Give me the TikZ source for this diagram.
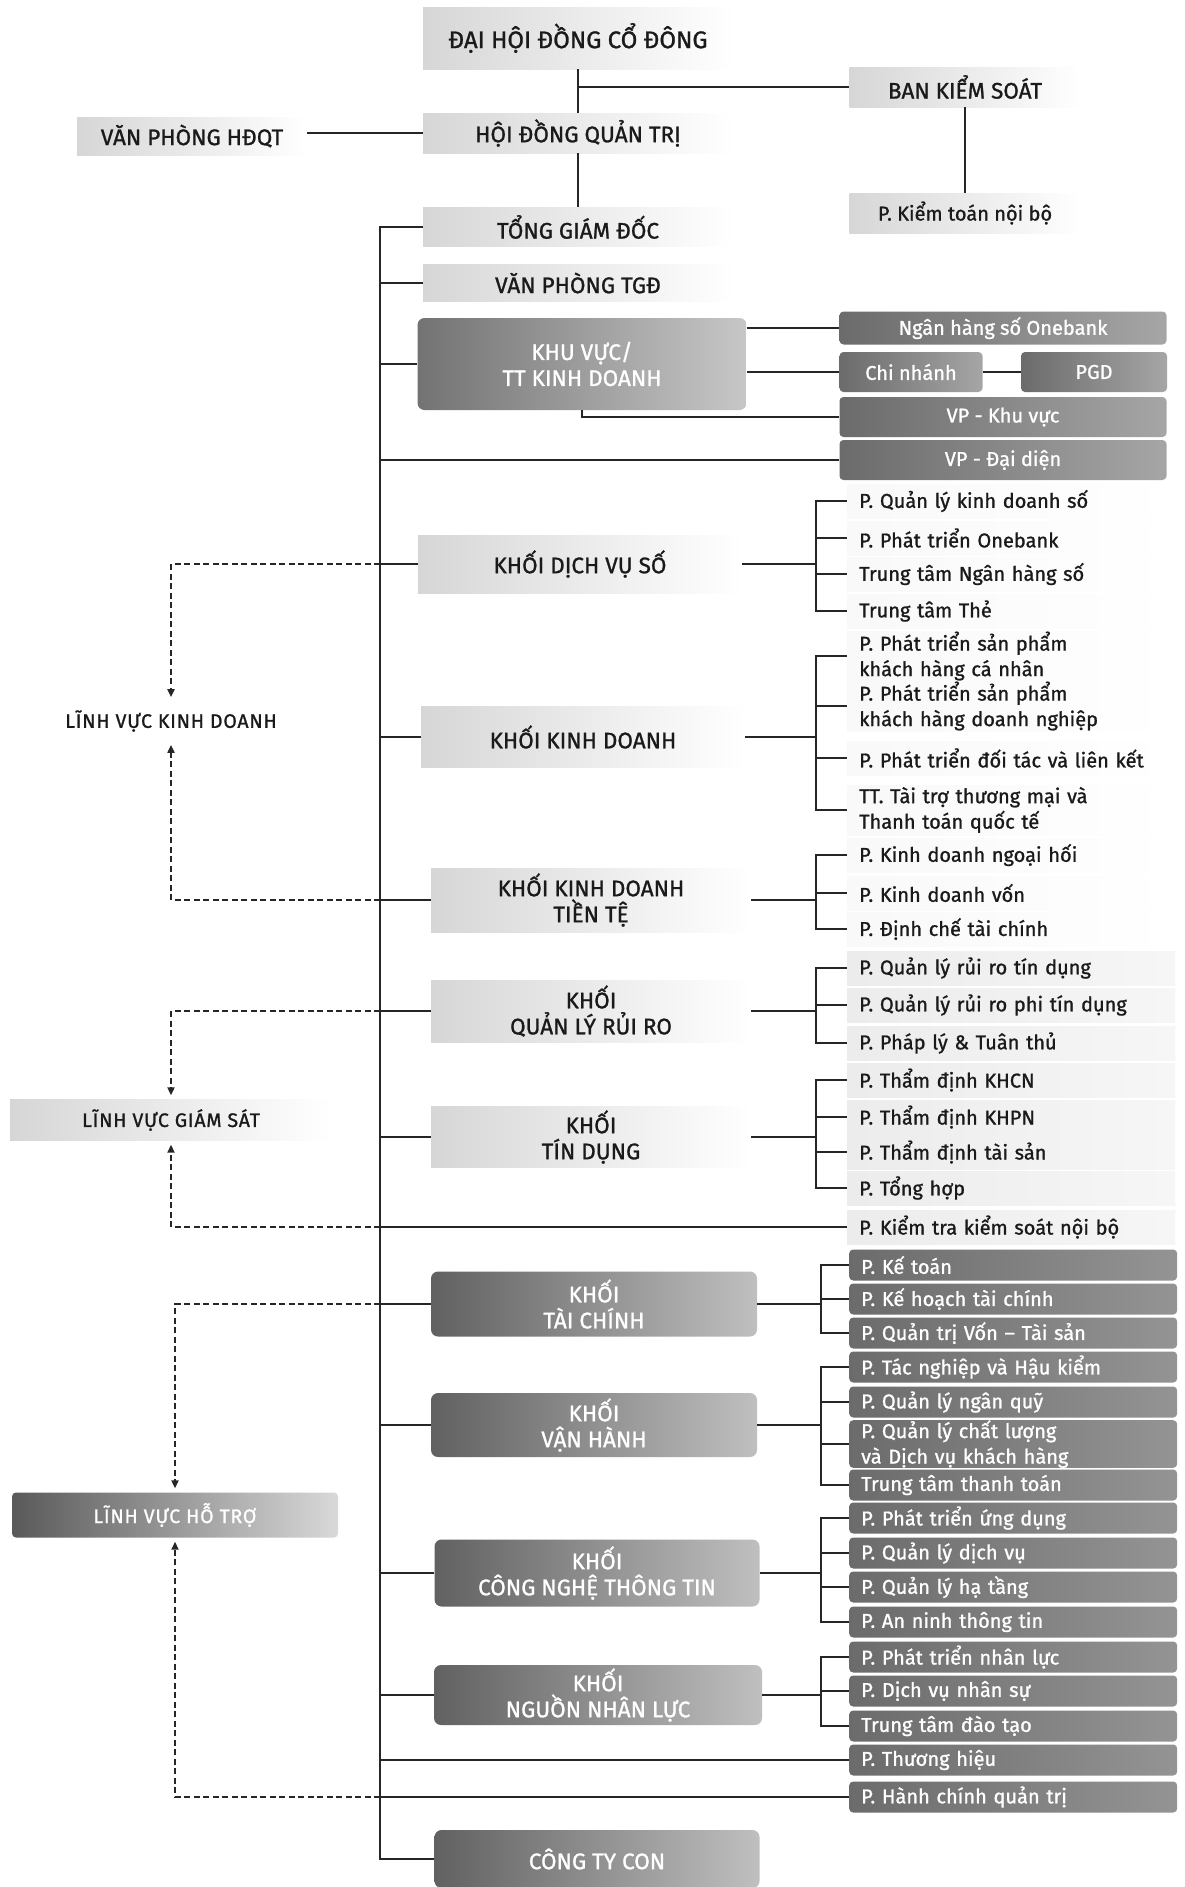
\documentclass[tikz,border=0pt]{standalone}
\usepackage{fontspec}
\setmainfont{Fira Sans}[FakeBold=1.1]
\newfontfamily\zwidefam{Fira Sans}[LetterSpace=4, FakeBold=1.1]
\usetikzlibrary{arrows.meta,calc}
\definecolor{lineC}{HTML}{262626}
\definecolor{txtC}{HTML}{1A1A1A}
\newcommand{\zhead}{\fontsize{22.5}{26}\selectfont}
\newcommand{\ztop}{\fontsize{24}{28}\selectfont}
\newcommand{\zitem}{\fontsize{20}{25.5}\selectfont}
\newcommand{\zwide}{\zwidefam\fontsize{19.5}{22}\selectfont}
\begin{document}
\begin{tikzpicture}[x=1pt,y=-1pt,
  ln/.style={line width=2.2pt, draw=lineC},
  dsh/.style={line width=2pt, draw=lineC, dash pattern=on 6pt off 3.5pt, -{Triangle[length=8pt,width=7pt]}, shorten >=4pt},
  lbox/.style={rectangle, left color=gray!32, right color=white, text=txtC, font=\zhead, align=center, inner sep=0pt},
  dbox/.style={rectangle, rounded corners=7pt, left color=black!62, right color=black!25, text=white, font=\zhead, align=center, inner sep=0pt},
  dcbox/.style={rectangle, rounded corners=4pt, left color=black!58, right color=black!35, text=white, font=\zitem, align=center, inner sep=0pt},
  litem/.style={rectangle, anchor=west, text width=304pt, inner xsep=12pt, inner ysep=0pt, minimum height=34pt, align=left, font=\zitem, text=txtC, left color=gray!5, right color=white},
  litemb/.style={litem, left color=gray!15, right color=gray!7},
  ditem/.style={rectangle, rounded corners=4pt, anchor=west, text width=304pt, inner xsep=12pt, inner ysep=0pt, minimum height=31pt, align=left, font=\zitem, text=white, left color=black!58, right color=black!42},
]
\useasboundingbox[fill=white] (0,0) rectangle (1184,1887);
\coordinate (sp) at (380,0);
\coordinate (bl) at (816,0);
\coordinate (bd) at (821,0);

% ---------- top ----------
\node[lbox, font=\ztop, minimum width=310pt, minimum height=62pt] (dhd) at (578,38) {ĐẠI HỘI ĐỒNG CỔ ĐÔNG};
\node[lbox, minimum width=310pt, minimum height=40pt] (hdqt) at (578,133) {HỘI ĐỒNG QUẢN TRỊ};
\node[lbox, minimum width=230pt, minimum height=38pt] (vphdqt) at (192,136) {VĂN PHÒNG HĐQT};
\node[lbox, minimum width=231pt, minimum height=40pt] (bks) at (965,87) {BAN KIỂM SOÁT};
\node[lbox, minimum width=231pt, minimum height=40pt, font=\zitem] (ktnb) at (965,213) {P. Kiểm toán nội bộ};
\node[lbox, minimum width=310pt, minimum height=39pt] (tgd) at (578,227) {TỔNG GIÁM ĐỐC};
\node[lbox, minimum width=310pt, minimum height=37pt] (vptgd) at (578,283) {VĂN PHÒNG TGĐ};

% ---------- khu vuc ----------
\node[dbox, minimum width=329pt, minimum height=92pt, left color=black!55, right color=black!22] (kv) at (582,364) {KHU VỰC/\\TT KINH DOANH};
\node[dcbox, minimum width=327pt, minimum height=33pt] (nhs) at (1003,328) {Ngân hàng số Onebank};
\node[dcbox, minimum width=143pt, minimum height=40pt] (cn) at (911,372) {Chi nhánh};
\node[dcbox, minimum width=146pt, minimum height=40pt] (pgd) at (1094,372) {PGD};
\node[dcbox, minimum width=327pt, minimum height=40pt] (vpkv) at (1003,417) {VP - Khu vực};
\node[dcbox, minimum width=327pt, minimum height=40pt] (vpdd) at (1003,460) {VP - Đại diện};

% ---------- light blocks ----------
\node[lbox, minimum width=324pt, minimum height=58pt] (dvs) at (580,564) {KHỐI DỊCH VỤ SỐ};
\node[litem] (dvs1) at (847,501) {P. Quản lý kinh doanh số};
\node[litem] (dvs2) at (847,538) {P. Phát triển Onebank};
\node[litem] (dvs3) at (847,574) {Trung tâm Ngân hàng số};
\node[litem] (dvs4) at (847,611) {Trung tâm Thẻ};

\node[lbox, minimum width=324pt, minimum height=61pt] (kd) at (583,737) {KHỐI KINH DOANH};
\node[litem, minimum height=50pt] (kd1) at (847,656) {P. Phát triển sản phẩm\\khách hàng cá nhân};
\node[litem, minimum height=50pt] (kd2) at (847,706) {P. Phát triển sản phẩm\\khách hàng doanh nghiệp};
\node[litem] (kd3) at (847,758) {P. Phát triển đối tác và liên kết};
\node[litem, minimum height=50pt] (kd4) at (847,810) {TT. Tài trợ thương mại và\\Thanh toán quốc tế};

\node[lbox, minimum width=320pt, minimum height=64pt] (kdtt) at (591,900) {KHỐI KINH DOANH\\TIỀN TỆ};
\node[litem] (kdtt1) at (847,855) {P. Kinh doanh ngoại hối};
\node[litem] (kdtt2) at (847,893) {P. Kinh doanh vốn};
\node[litem] (kdtt3) at (847,929) {P. Định chế tài chính};

\node[lbox, minimum width=320pt, minimum height=62pt] (qlrr) at (591,1011) {KHỐI\\QUẢN LÝ RỦI RO};
\node[litemb] (qlrr1) at (847,968) {P. Quản lý rủi ro tín dụng};
\node[litemb] (qlrr2) at (847,1005) {P. Quản lý rủi ro phi tín dụng};
\node[litemb] (qlrr3) at (847,1043) {P. Pháp lý \& Tuân thủ};

\node[lbox, minimum width=320pt, minimum height=61pt] (td) at (591,1137) {KHỐI\\TÍN DỤNG};
\node[litemb] (td1) at (847,1080) {P. Thẩm định KHCN};
\node[litemb] (td2) at (847,1117) {P. Thẩm định KHPN};
\node[litemb] (td3) at (847,1152) {P. Thẩm định tài sản};
\node[litemb] (td4) at (847,1188) {P. Tổng hợp};
\node[litemb] (ktks) at (847,1227) {P. Kiểm tra kiểm soát nội bộ};

% ---------- dark blocks ----------
\node[dbox, minimum width=326pt, minimum height=65pt] (tc) at (594,1304) {KHỐI\\TÀI CHÍNH};
\node[ditem] (tc1) at (849,1265) {P. Kế toán};
\node[ditem] (tc2) at (849,1299) {P. Kế hoạch tài chính};
\node[ditem] (tc3) at (849,1333) {P. Quản trị Vốn – Tài sản};

\node[dbox, minimum width=326pt, minimum height=64pt] (vh) at (594,1425) {KHỐI\\VẬN HÀNH};
\node[ditem] (vh1) at (849,1367) {P. Tác nghiệp và Hậu kiểm};
\node[ditem] (vh2) at (849,1402) {P. Quản lý ngân quỹ};
\node[ditem, minimum height=47pt] (vh3) at (849,1444) {P. Quản lý chất lượng\\và Dịch vụ khách hàng};
\node[ditem] (vh4) at (849,1485) {Trung tâm thanh toán};

\node[dbox, minimum width=325pt, minimum height=67pt] (cntt) at (597,1573) {KHỐI\\CÔNG NGHỆ THÔNG TIN};
\node[ditem] (it1) at (849,1518) {P. Phát triển ứng dụng};
\node[ditem] (it2) at (849,1553) {P. Quản lý dịch vụ};
\node[ditem] (it3) at (849,1587) {P. Quản lý hạ tầng};
\node[ditem] (it4) at (849,1622) {P. An ninh thông tin};

\node[dbox, minimum width=328pt, minimum height=60pt] (nnl) at (598,1695) {KHỐI\\NGUỒN NHÂN LỰC};
\node[ditem] (nl1) at (849,1657) {P. Phát triển nhân lực};
\node[ditem] (nl2) at (849,1691) {P. Dịch vụ nhân sự};
\node[ditem] (nl3) at (849,1726) {Trung tâm đào tạo};
\node[ditem] (th) at (849,1760) {P. Thương hiệu};
\node[ditem] (hc) at (849,1797) {P. Hành chính quản trị};

\node[dbox, minimum width=325pt, minimum height=58pt] (cty) at (597,1859) {CÔNG TY CON};

% ---------- left labels ----------
\node[font=\zwide, text=txtC, inner xsep=0pt, inner ysep=9pt] (lvkd) at (171,721) {LĨNH VỰC KINH DOANH};
\node[lbox, font=\zwide, minimum width=322pt, minimum height=41pt] (lvgs) at (171,1120) {LĨNH VỰC GIÁM SÁT};
\node[dbox, font=\zwide, rounded corners=4pt, minimum width=326pt, minimum height=45pt, left color=black!65, right color=black!15] (lvht) at (175,1515) {LĨNH VỰC HỖ TRỢ};

% ---------- connectors top ----------
\draw[ln] (dhd.south) -- (hdqt.north);
\draw[ln] (dhd.south |- bks.west) -- (bks.west);
\draw[ln] (hdqt.west) -- (vphdqt.east |- hdqt.west);
\draw[ln] (bks.south) -- (ktnb.north);
\draw[ln] (hdqt.south) -- (tgd.north);
\draw[ln] (tgd.west) -- (sp |- tgd.west) -- (sp |- cty.west) -- (cty.west);
\foreach \n in {vptgd,kv,vpdd,dvs,kd,kdtt,qlrr,td,ktks,tc,vh,cntt,nnl,th,hc}
  \draw[ln] (sp |- \n.west) -- (\n.west);

% khu vuc
\draw[ln] (kv.east |- nhs.west) -- (nhs.west);
\draw[ln] (kv.east |- cn.west) -- (cn.west);
\draw[ln] (cn.east) -- (pgd.west);
\draw[ln] (kv.south) |- (vpkv.west);

% light brackets
\draw[ln] (dvs.east) -- (bl |- dvs.east);
\draw[ln] (dvs1.west) -| (bl |- dvs4.west) -- (dvs4.west);
\foreach \n in {dvs2,dvs3} \draw[ln] (bl |- \n.west) -- (\n.west);

\draw[ln] (kd.east) -- (bl |- kd.east);
\draw[ln] (kd1.west) -| (bl |- kd4.west) -- (kd4.west);
\foreach \n in {kd2,kd3} \draw[ln] (bl |- \n.west) -- (\n.west);

\draw[ln] (kdtt.east) -- (bl |- kdtt.east);
\draw[ln] (kdtt1.west) -| (bl |- kdtt3.west) -- (kdtt3.west);
\draw[ln] (bl |- kdtt2.west) -- (kdtt2.west);

\draw[ln] (qlrr.east) -- (bl |- qlrr.east);
\draw[ln] (qlrr1.west) -| (bl |- qlrr3.west) -- (qlrr3.west);
\draw[ln] (bl |- qlrr2.west) -- (qlrr2.west);

\draw[ln] (td.east) -- (bl |- td.east);
\draw[ln] (td1.west) -| (bl |- td4.west) -- (td4.west);
\foreach \n in {td2,td3} \draw[ln] (bl |- \n.west) -- (\n.west);

% dark brackets
\draw[ln] (tc.east) -- (bd |- tc.east);
\draw[ln] (tc1.west) -| (bd |- tc3.west) -- (tc3.west);
\draw[ln] (bd |- tc2.west) -- (tc2.west);

\draw[ln] (vh.east) -- (bd |- vh.east);
\draw[ln] (vh1.west) -| (bd |- vh4.west) -- (vh4.west);
\foreach \n in {vh2,vh3} \draw[ln] (bd |- \n.west) -- (\n.west);

\draw[ln] (cntt.east) -- (bd |- cntt.east);
\draw[ln] (it1.west) -| (bd |- it4.west) -- (it4.west);
\foreach \n in {it2,it3} \draw[ln] (bd |- \n.west) -- (\n.west);

\draw[ln] (nnl.east) -- (bd |- nnl.east);
\draw[ln] (nl1.west) -| (bd |- nl3.west) -- (nl3.west);
\draw[ln] (bd |- nl2.west) -- (nl2.west);

% dashed
\draw[dsh] (sp |- dvs.west) -| (lvkd.north);
\draw[dsh] (sp |- kdtt.west) -| (lvkd.south);
\draw[dsh] (sp |- qlrr.west) -| (lvgs.north);
\draw[dsh] (sp |- ktks.west) -| (lvgs.south);
\draw[dsh] (sp |- tc.west) -| (lvht.north);
\draw[dsh] (sp |- hc.west) -| (lvht.south);
\end{tikzpicture}
\end{document}
